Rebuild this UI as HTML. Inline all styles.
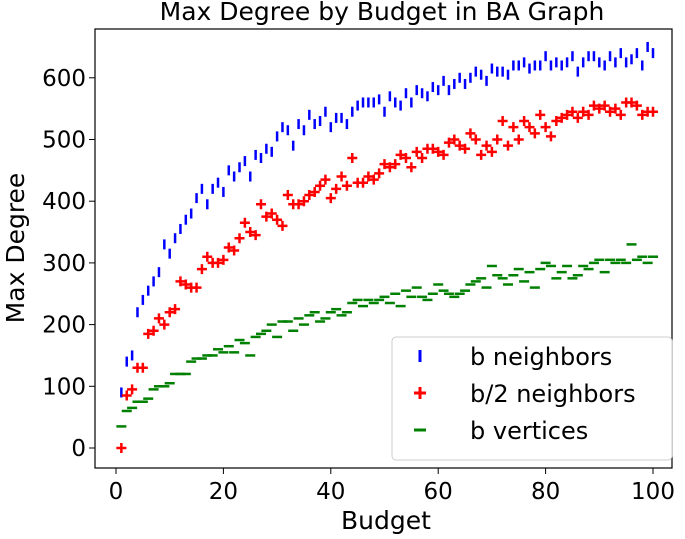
<!DOCTYPE html>
<html><head><meta charset="utf-8"><style>
body{margin:0;background:#fff;}
svg text{font-family:"DejaVu Sans","Liberation Sans",sans-serif;fill:#000;}
</style></head><body>
<svg id="chart" width="685" height="534" xmlns="http://www.w3.org/2000/svg">
<text x="382" y="20" font-size="25" text-anchor="middle">Max Degree by Budget in BA Graph</text>
<rect x="95" y="29" width="577" height="439" fill="none" stroke="#000" stroke-width="1.2"/>
<g id="xticks"></g>
<g id="yticks"></g>
<text x="386" y="529" font-size="25" text-anchor="middle">Budget</text>
<text transform="translate(24,248) rotate(-90)" font-size="25" text-anchor="middle">Max Degree</text>
<g id="marks"></g>
<g>
<rect x="392" y="337" width="280" height="123" rx="4" fill="#fff" stroke="#ccc"/>
<g><line x1="420" y1="350" x2="420" y2="362" stroke="#0000ff" stroke-width="3"/><text x="470" y="365" font-size="24">b neighbors</text></g>
<g><path d="M414 393h12M420 387v12" stroke="#ff0000" stroke-width="3"/><text x="470" y="402" font-size="24">b/2 neighbors</text></g>
<g><line x1="414" y1="430" x2="426" y2="430" stroke="#008000" stroke-width="3"/><text x="470" y="439" font-size="24">b vertices</text></g>
</g>
</svg>
<script>
const xTicks=[0,20,40,60,80,100];
const yTicks=[0,100,200,300,400,500,600];
const bNeighbors=[90,140,150,220,240,255,270,285,330,315,340,355,370,380,405,420,395,420,430,415,450,440,455,465,440,475,470,485,480,505,520,515,490,525,515,540,525,530,545,520,535,535,525,545,555,560,560,560,565,545,570,560,555,575,560,580,575,570,585,580,595,580,590,600,590,600,610,605,595,615,610,610,605,620,620,625,615,620,620,635,620,625,620,625,635,610,625,635,635,625,620,635,625,640,625,630,640,620,650,640];
const halfNeighbors=[0,85,95,130,130,185,190,210,200,220,225,270,265,260,260,290,310,300,300,305,325,320,340,365,350,345,395,375,380,370,360,410,395,395,400,410,415,425,435,405,420,440,425,470,430,430,440,435,445,460,455,460,475,470,455,480,470,485,485,480,475,495,500,490,485,510,500,475,490,480,500,530,490,520,500,530,520,510,540,520,505,530,535,540,545,535,545,540,555,550,555,545,550,540,560,560,555,540,545,545];
const bVertices=[35,60,65,75,75,80,95,100,100,105,120,120,120,140,145,145,150,150,160,155,165,155,175,170,150,180,185,190,200,180,205,205,190,210,200,215,220,205,210,220,225,215,220,235,240,230,240,235,240,245,235,250,230,255,245,260,245,240,250,265,255,250,245,250,255,265,270,275,260,295,280,275,265,280,290,270,285,260,290,300,295,275,285,295,275,280,295,290,300,305,285,305,300,305,300,330,305,310,300,310];
const NS="http://www.w3.org/2000/svg";
const X=v=>116+5.37*v, Y=v=>448-0.617*v;
function mk(t,a,p){const e=document.createElementNS(NS,t);for(const k in a)e.setAttribute(k,a[k]);p.appendChild(e);return e;}
const xg=document.getElementById('xticks');
xTicks.forEach(t=>{
 const g=mk('g',{},xg);
 
 
 mk('line',{x1:X(t),x2:X(t),y1:468,y2:474,stroke:'#000'},g);
 const tx=mk('text',{x:X(t),y:499,'font-size':23,'text-anchor':'middle'},g);tx.textContent=t;
});
const yg=document.getElementById('yticks');
yTicks.forEach(t=>{
 const g=mk('g',{},yg);
 
 
 mk('line',{x1:89,x2:95,y1:Y(t),y2:Y(t),stroke:'#000'},g);
 const tx=mk('text',{x:86,y:Y(t)+8,'font-size':23,'text-anchor':'end'},g);tx.textContent=t;
});
const m=document.getElementById('marks');


function series(arr,col,kind,name){
 const g=mk('g',{stroke:col,'stroke-width':2.5,fill:'none'},m);
 
 
 arr.forEach((v,i)=>{
  const x=X(i+1),y=Y(v);
  let d=kind==='v'?`M${x} ${y-5}v10`:kind==='h'?`M${x-5} ${y}h10`:`M${x-5} ${y}h10M${x} ${y-5}v10`;
  const p=mk('path',{d:d},g);
  
  
 });
}
series(bNeighbors,'#0000ff','v','b-neighbors');
series(halfNeighbors,'#ff0000','p','b2-neighbors');
series(bVertices,'#008000','h','b-vertices');
</script>
</body></html>
